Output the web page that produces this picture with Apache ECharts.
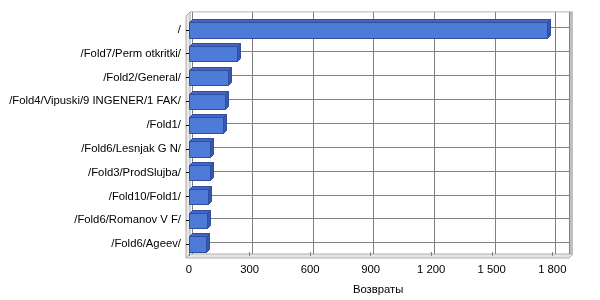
<!DOCTYPE html>
<html>
<head>
<meta charset="utf-8">
<script src="https://cdn.jsdelivr.net/npm/echarts@6/dist/echarts.min.js"></script>
<style>html,body{margin:0;padding:0;background:#fff}#c{width:600px;height:300px}</style>
</head>
<body>
<div id="c"></div>
<script>
const categories = ['/', '/Fold7/Perm otkritki/', '/Fold2/General/', '/Fold4/Vipuski/9 INGENER/1 FAK/', '/Fold1/', '/Fold6/Lesnjak G N/', '/Fold3/ProdSlujba/', '/Fold10/Fold1/', '/Fold6/Romanov V F/', '/Fold6/Ageev/'];
const values = [1776, 238, 195, 178, 168, 106, 105, 96, 89, 86];
const axisName = 'Возвраты';
const tickStep = 300;
const axisMax = 1800;

const FONT = 'Liberation Sans';
const chart = echarts.init(document.getElementById('c'));
const fmt = v => String(v).replace(/\B(?=(\d{3})+(?!\d))/g, ' ');
const D = 3; // 3D depth in px

chart.setOption({
  animation: false,
  grid: [
    {left: 192, top: 12, width: 377, height: 242},
    {left: 192, top: 15.5, width: 377, height: 239},
    {left: 189, top: 18, width: 363.3, height: 239}
  ],
  xAxis: [
    {gridIndex: 0, type: 'value', min: 0, max: axisMax * 377 / 363.3, interval: tickStep,
     axisLabel: {show: false}, axisLine: {show: false}, axisTick: {show: false},
     splitLine: {show: true, lineStyle: {color: '#808080', width: 1}}},
    {gridIndex: 1, type: 'value', min: 0, max: axisMax, show: false, splitLine: {show: false}},
    {gridIndex: 2, type: 'value', min: 0, max: axisMax, interval: tickStep,
     axisLine: {show: false},
     axisTick: {show: true, inside: true, length: 4, lineStyle: {color: '#808080'}},
     axisLabel: {color: '#000', fontFamily: FONT, fontSize: 11.3, margin: 8, formatter: fmt},
     splitLine: {show: false},
     name: axisName, nameLocation: 'middle', nameGap: 28,
     nameTextStyle: {color: '#000', fontFamily: FONT, fontSize: 11.3, padding: [0, 0, 0, 15]}}
  ],
  yAxis: [
    {gridIndex: 0, type: 'category', data: categories, inverse: true, show: false},
    {gridIndex: 1, type: 'category', data: categories, inverse: true,
     axisLabel: {show: false}, axisLine: {show: false}, axisTick: {show: false},
     splitLine: {show: true, alignWithLabel: true, lineStyle: {color: '#808080', width: 1}}},
    {gridIndex: 2, type: 'category', data: categories, inverse: true, offset: 3,
     axisLine: {show: false},
     axisTick: {show: true, alignWithLabel: true, length: 3, lineStyle: {color: '#000'}},
     axisLabel: {color: '#000', fontFamily: FONT, fontSize: 11.3, margin: 5},
     splitLine: {show: false}}
  ],
  graphic: [
    {type: 'rect', z: -10, shape: {x: 190, y: 11, width: 383, height: 243}, style: {fill: '#fff', stroke: null}},
    {type: 'rect', z: -9, shape: {x: 190, y: 11, width: 383, height: 2}, style: {fill: '#e4e4e4'}},
    {type: 'polygon', z: -9, shape: {points: [[186, 16], [190, 12], [190, 254], [186, 258]]}, style: {fill: '#e8e8e8', stroke: '#a8a8a8', lineWidth: 1}},
    {type: 'rect', z: -9, shape: {x: 569, y: 11, width: 4, height: 243}, style: {fill: '#c0c0c0'}},
    {type: 'polygon', z: -9, shape: {points: [[186, 258], [190, 254], [573, 254], [569, 258]]}, style: {fill: '#e6e6e6', stroke: '#b0b0b0', lineWidth: 1}},
    {type: 'line', z: -9, shape: {x1: 190, y1: 11.5, x2: 573, y2: 11.5}, style: {stroke: '#d0d0d0', lineWidth: 1}}
  ],
  series: [{
    type: 'custom',
    xAxisIndex: 2, yAxisIndex: 2,
    data: values.map((v, i) => [v, i]),
    encode: {x: 0, y: 1},
    renderItem: function (params, api) {
      const idx = api.value(1);
      const p0 = api.coord([0, idx]);
      const p1 = api.coord([api.value(0), idx]);
      const h = api.size([0, 1])[1] * 0.65;
      const x0 = Math.round(p0[0]) + 0.5, x1 = Math.round(p1[0]) + 0.5;
      const yt = Math.round(p0[1] - h / 2) + 0.5, yb = Math.round(p0[1] + h / 2) + 0.5;
      const stroke = '#2f4e9e';
      return {
        type: 'group',
        children: [
          {type: 'polygon', shape: {points: [[x0, yt], [x1, yt], [x1 + D, yt - D], [x0 + D, yt - D]]},
           style: {fill: '#4466c4', stroke: stroke, lineWidth: 1}},
          {type: 'polygon', shape: {points: [[x1, yt], [x1 + D, yt - D], [x1 + D, yb - D], [x1, yb]]},
           style: {fill: '#3858b0', stroke: stroke, lineWidth: 1}},
          {type: 'rect', shape: {x: x0, y: yt, width: x1 - x0, height: yb - yt},
           style: {fill: '#4f7bd8', stroke: stroke, lineWidth: 1}}
        ]
      };
    }
  }]
});
</script>
</body>
</html>
